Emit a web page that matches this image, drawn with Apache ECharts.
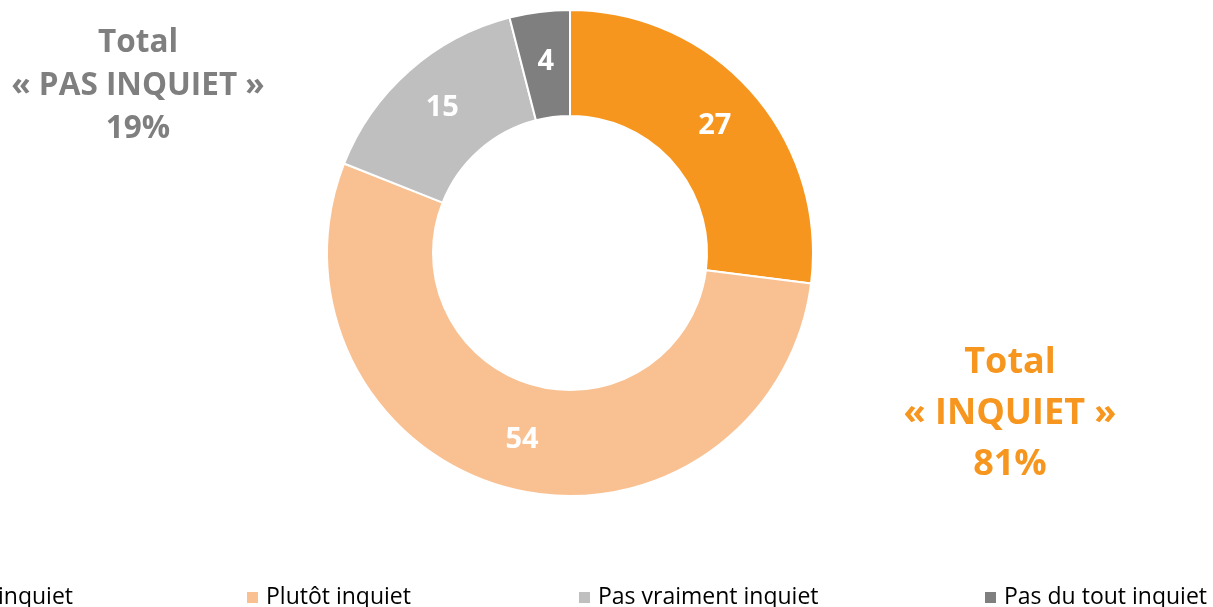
<!DOCTYPE html>
<html lang="fr">

<head>
  <meta charset="UTF-8">
  <title>Inquiétude</title>
  <style>
    html, body { margin: 0; padding: 0; background: #fff; }
  </style>
</head>

<body>
  <div id="main" style="width: 1213px; height: 607px;"></div>
  <script src="https://cdn.jsdelivr.net/npm/echarts@6/dist/echarts.min.js"></script>
  <script type="text/javascript">
    // données
    var categories = ['Très inquiet', 'Plutôt inquiet', 'Pas vraiment inquiet', 'Pas du tout inquiet'];
    var values = [27, 54, 15, 4];
    var colors = ['#F7961E', '#F9C192', '#BFBFBF', '#7F7F7F'];
    // position gauche du carré de chaque entrée de légende (la première est coupée à gauche)
    var legendLeft = [null, 245, 577, 983];

    var myChart = echarts.init(document.getElementById('main'));
    var font = '"Open Sans", "Noto Sans", sans-serif';
    var legendSize = 23;

    // la première entrée déborde : on cale le mot « inquiet » vers x = 6
    var ctx = document.createElement('canvas').getContext('2d');
    ctx.font = legendSize + 'px ' + font;
    legendLeft[0] = 6 - ctx.measureText('Très ').width - 7 - 13 - 9;

    var legends = categories.map(function (name, i) {
      return {
        data: [name],
        left: legendLeft[i],
        top: 586,
        padding: 0,
        icon: 'rect',
        itemWidth: 13,
        itemHeight: 13,
        itemGap: 7,
        textStyle: { fontFamily: font, fontSize: legendSize, color: '#000', padding: [0, 0, 0, 2] },
        selectedMode: false
      };
    });

    option = {
      animation: false,
      color: colors,
      legend: legends,
      graphic: [
        {
          type: 'text',
          style: {
            x: 138, y: 22,
            text: 'Total\n« PAS INQUIET »\n19%',
            textAlign: 'center',
            fill: '#7F7F7F',
            font: 'bold 31.5px ' + font,
            lineHeight: 43
          }
        },
        {
          type: 'text',
          style: {
            x: 1010, y: 337,
            text: 'Total\n« INQUIET »\n81%',
            textAlign: 'center',
            fill: '#F7961E',
            font: 'bold 36px ' + font,
            lineHeight: 51
          }
        }
      ],
      series: [{
        type: 'pie',
        center: [570, 253],
        radius: [137, 243],
        startAngle: 90,
        clockwise: true,
        itemStyle: { borderColor: '#fff', borderWidth: 2 },
        label: {
          position: 'inside',
          formatter: '{c}',
          color: '#fff',
          fontFamily: font,
          fontWeight: 'bold',
          fontSize: 29,
          padding: [7, 0, 0, 0]
        },
        labelLine: { show: false },
        emphasis: { disabled: true },
        data: categories.map(function (name, i) {
          return { name: name, value: values[i] };
        })
      }]
    };
    myChart.setOption(option);
  </script>
</body>

</html>
